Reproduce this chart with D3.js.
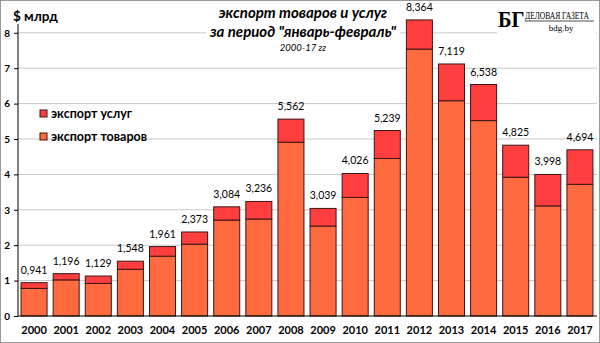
<!DOCTYPE html>
<html><head><meta charset="utf-8">
<script src="https://cdn.jsdelivr.net/npm/d3@7"></script>
<style>body{margin:0;background:#fff}svg{display:block}</style>
</head><body><svg id="c" width="600" height="343"></svg>
<script>
const years = ["2000","2001","2002","2003","2004","2005","2006","2007","2008","2009","2010","2011","2012","2013","2014","2015","2016","2017"];
const totals = [0.941,1.196,1.129,1.548,1.961,2.373,3.084,3.236,5.562,3.039,4.026,5.239,8.364,7.119,6.538,4.825,3.998,4.694];
const goods = [0.78,1.02,0.92,1.32,1.69,2.03,2.71,2.74,4.91,2.54,3.35,4.45,7.54,6.08,5.52,3.92,3.11,3.72];
const yTicks = [0,1,2,3,4,5,6,7,8];
const seriesNames = ["экспорт услуг","экспорт товаров"];
const colors = {services:"#FF3F3F", goods:"#FF6B3F"};

const svg = d3.select("#c");
const font = "Lato, 'Open Sans', sans-serif";
svg.append("rect").attr("x",0.5).attr("y",0.5).attr("width",599).attr("height",342)
  .attr("fill","#fff").attr("stroke","#999");

const x = d3.scaleBand().domain(years).range([18,596]).paddingInner(0.19).paddingOuter(0.095);
const y = d3.scaleLinear().domain([0,8]).range([316,32.8]);

// gridlines
svg.append("g").selectAll("line").data(yTicks.filter(d=>d>0)).join("line")
  .attr("x1",18).attr("x2",597).attr("y1",d=>y(d)).attr("y2",d=>y(d))
  .attr("stroke","#c8c8c8").attr("stroke-width",1);

// y axis
const ya = svg.append("g").attr("transform","translate(18,0)")
  .call(d3.axisLeft(y).tickValues(yTicks).tickSize(4).tickFormat(d3.format("d")));
ya.select(".domain").attr("stroke","#000").attr("d","M0,24V316");
ya.selectAll(".tick line").attr("stroke","#000");
ya.selectAll("text").attr("font-family",font).attr("font-weight","bold").attr("font-size",10).attr("fill","#000").attr("x",-8);

// bars
const g = svg.append("g");
years.forEach((yr,i)=>{
  g.append("rect").attr("x",x(yr)).attr("width",x.bandwidth())
    .attr("y",y(goods[i])).attr("height",y(0)-y(goods[i]))
    .attr("fill",colors.goods).attr("stroke","#3a1515").attr("stroke-width",1);
  g.append("rect").attr("x",x(yr)).attr("width",x.bandwidth())
    .attr("y",y(totals[i])).attr("height",y(goods[i])-y(totals[i]))
    .attr("fill",colors.services).attr("stroke","#3a1515").attr("stroke-width",1);
});
g.selectAll("text.v").data(years).join("text").attr("class","v")
  .attr("x",d=>x(d)+x.bandwidth()/2).attr("y",(d,i)=>y(totals[i])-9)
  .attr("text-anchor","middle").attr("font-family",font).attr("font-size",10.5).attr("fill","#000")
  .text((d,i)=>d3.format(".3f")(totals[i]).replace(".",","));

// x axis
const xa = svg.append("g").attr("transform","translate(0,316)")
  .call(d3.axisBottom(x).tickSize(0).tickPadding(10));
xa.select(".domain").attr("stroke","#000").attr("d","M18,0H597");
xa.selectAll("text").attr("font-family",font).attr("font-weight","bold").attr("font-size",11).attr("fill","#000");

// y unit label
svg.append("text").attr("x",13).attr("y",21).attr("font-family",font).attr("font-weight","bold")
  .attr("font-size",13.5).text("$ млрд");

// legend
const leg = svg.append("g");
[[colors.services,116],[colors.goods,139]].forEach((c,i)=>{
  leg.append("rect").attr("x",40).attr("y",c[1]-6).attr("width",7).attr("height",7)
    .attr("fill",c[0]).attr("stroke","#3a1515");
  leg.append("text").attr("x",51).attr("y",c[1]+2).attr("font-family",font).attr("font-weight","bold")
    .attr("font-size",12.5).text(seriesNames[i]);
});

// title
svg.append("rect").attr("x",206).attr("y",4).attr("width",194).attr("height",48).attr("fill","#fff");
const t = svg.append("g").attr("font-family",font).attr("text-anchor","middle").attr("font-style","italic");
t.append("text").attr("x",303).attr("y",18).attr("font-weight","bold").attr("font-size",15).text("экспорт товаров и услуг");
t.append("text").attr("x",303).attr("y",37).attr("font-weight","bold").attr("font-size",15).text("за период  \"январь-февраль\"");
t.append("text").attr("x",303).attr("y",51).attr("font-size",9.5).text("2000-17 гг");

// logo
svg.append("rect").attr("x",497).attr("y",3).attr("width",99).attr("height",32).attr("fill","#fff");
svg.append("g").attr("transform","translate(498,27) scale(0.85,1)")
  .append("text").attr("font-family","'Liberation Serif', serif").attr("font-weight","bold")
  .attr("font-size",24).text("БГ");
svg.append("g").attr("transform","translate(525,19) scale(0.72,1)")
  .append("text").attr("font-family","'Liberation Serif', serif")
  .attr("font-size",10.5).text("ДЕЛОВАЯ ГАЗЕТА");
svg.append("line").attr("x1",525).attr("x2",594).attr("y1",21).attr("y2",21).attr("stroke","#000").attr("stroke-width",0.7);
svg.append("text").attr("x",561).attr("y",31).attr("text-anchor","middle").attr("font-family","'Liberation Serif', serif")
  .attr("font-size",9).text("bdg.by");
</script></body></html>
